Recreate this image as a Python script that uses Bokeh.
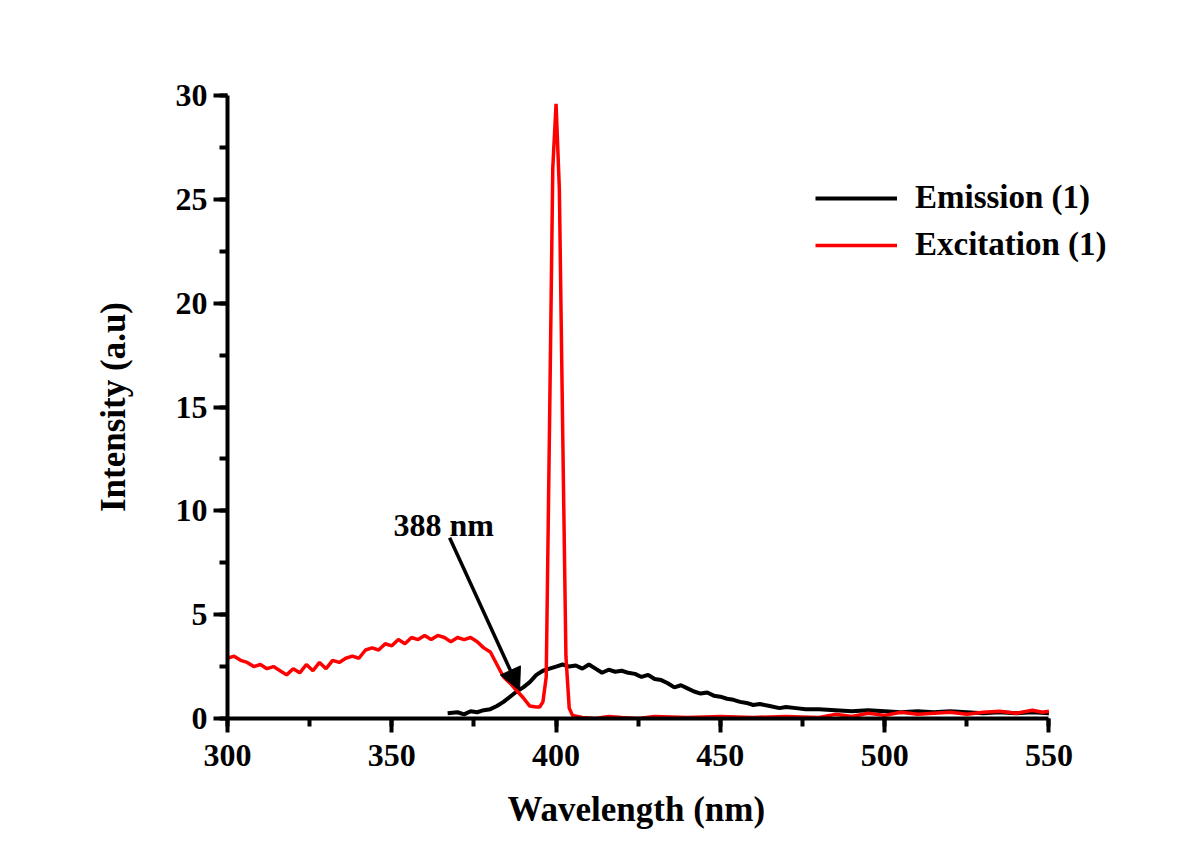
from bokeh.plotting import figure
from bokeh.models import (Range1d, Legend, LegendItem, Arrow, NormalHead, Label,
                          SingleIntervalTicker, Title)
from bokeh.embed import file_html
from bokeh.resources import INLINE

# Excitation (red)
exc_x = [300, 302, 304, 306, 308, 310, 312, 314, 316, 318, 320, 322, 324, 326, 328, 330,
         332, 334, 336, 338, 340, 342, 344, 346, 348, 350, 352, 354, 356, 358, 360, 362,
         364, 366, 368, 370, 372, 374, 376, 378, 380, 382, 384, 386, 388, 390, 392, 394,
         395, 396, 397, 398, 399, 400, 401, 402, 403, 404, 405, 408, 412, 416, 420, 425,
         430, 440, 450, 460, 470, 480, 485, 490, 495, 500, 505, 510, 515, 520, 525, 530,
         535, 540, 545, 548, 550]
exc_y = [2.9, 3.0, 2.8, 2.7, 2.5, 2.6, 2.4, 2.5, 2.3, 2.1, 2.4, 2.2, 2.6, 2.3, 2.7, 2.4,
         2.8, 2.7, 2.9, 3.0, 2.9, 3.3, 3.4, 3.3, 3.6, 3.5, 3.8, 3.6, 3.9, 3.8, 4.0, 3.8,
         4.0, 3.9, 3.7, 3.9, 3.8, 3.9, 3.7, 3.4, 3.2, 2.6, 2.0, 1.7, 1.35, 1.0, 0.6, 0.55,
         0.55, 0.8, 2.0, 14.0, 26.5, 29.6, 25.5, 14.0, 3.0, 0.5, 0.15, 0.05, 0.0, 0.1, 0.05, 0.0,
         0.1, 0.05, 0.1, 0.05, 0.1, 0.05, 0.2, 0.1, 0.25, 0.15, 0.3, 0.2, 0.25, 0.3, 0.2, 0.3,
         0.35, 0.25, 0.4, 0.3, 0.35]

# Emission (black)
emi_x = [367, 370, 372, 374, 376, 378, 380, 382, 384, 386, 388, 390, 392, 394, 396, 398,
         400, 402, 404, 406, 408, 410, 412, 414, 416, 418, 420, 422, 424, 426, 428, 430,
         432, 434, 436, 438, 440, 442, 444, 446, 448, 450, 452, 454, 456, 458, 460, 462,
         465, 468, 470, 473, 476, 480, 485, 490, 495, 500, 505, 510, 515, 520, 525, 530,
         535, 540, 545, 550]
emi_y = [0.25, 0.3, 0.2, 0.35, 0.3, 0.4, 0.45, 0.6, 0.8, 1.05, 1.3, 1.5, 1.75, 2.1, 2.3, 2.4,
         2.5, 2.6, 2.5, 2.55, 2.4, 2.6, 2.4, 2.2, 2.35, 2.25, 2.3, 2.2, 2.15, 2.0, 2.1, 1.9,
         1.85, 1.7, 1.5, 1.6, 1.45, 1.3, 1.2, 1.25, 1.1, 1.05, 0.95, 0.9, 0.8, 0.75, 0.65, 0.7,
         0.6, 0.5, 0.55, 0.5, 0.45, 0.45, 0.4, 0.35, 0.4, 0.35, 0.3, 0.35, 0.3, 0.35, 0.3, 0.25,
         0.3, 0.25, 0.3, 0.25]

legend_labels = ["Emission (1)", "Excitation (1)"]
x_label = "Wavelength (nm)"
y_label = "Intensity (a.u)"
annot_text = "388 nm"
annot_text_pos = (350.5, 9.3)
arrow_start = (367.6, 8.7)
arrow_end = (388.9, 1.35)

FONT = "Liberation Serif"

# x range extends past 550 so the legend text is not clipped; axis is bounded to 300-550
p = figure(width=1203, height=852, output_backend="svg", toolbar_location=None,
           x_range=Range1d(300, 580), y_range=Range1d(0, 30),
           min_border_left=227, min_border_right=56, min_border_top=95, min_border_bottom=134)
p.outline_line_color = None
p.xgrid.visible = False
p.ygrid.visible = False
p.background_fill_color = "white"
p.border_fill_color = "white"

r_emi = p.line(emi_x, emi_y, line_color="black", line_width=4)
r_exc = p.line(exc_x, exc_y, line_color="#ff0000", line_width=3.5)

for ax in (p.xaxis[0], p.yaxis[0]):
    ax.axis_line_width = 4
    ax.axis_line_color = "black"
    ax.major_tick_line_width = 4
    ax.minor_tick_line_width = 4
    ax.major_tick_out = 14
    ax.major_tick_in = 0
    ax.minor_tick_out = 8
    ax.minor_tick_in = 0
    ax.major_label_text_font = FONT
    ax.major_label_text_font_style = "bold"
    ax.major_label_text_font_size = "32px"
    ax.major_label_text_color = "black"
    ax.axis_label_text_font = FONT
    ax.axis_label_text_font_style = "bold"
    ax.axis_label_text_font_size = "35px"
    ax.axis_label_text_color = "black"

p.xaxis.bounds = (300, 550)
p.xaxis.ticker = SingleIntervalTicker(interval=50, num_minor_ticks=2)
p.yaxis.ticker = SingleIntervalTicker(interval=5, num_minor_ticks=2)
p.yaxis.axis_label = y_label
p.xaxis.major_label_standoff = 12
p.yaxis.major_label_standoff = 6
p.yaxis.axis_label_standoff = 40

# x-axis label as a below-title, shifted to centre it under the 300-550 axis
p.add_layout(Title(text=x_label, align="left", offset=280, standoff=38,
                   text_font=FONT, text_font_style="bold", text_font_size="35px",
                   text_color="black"), "below")

legend = Legend(items=[LegendItem(label=legend_labels[0], renderers=[r_emi]),
                       LegendItem(label=legend_labels[1], renderers=[r_exc])],
                location=(588, 455), glyph_width=82, glyph_height=30,
                label_text_font=FONT, label_text_font_style="bold",
                label_text_font_size="33px", label_text_color="black",
                label_standoff=18, spacing=10, label_height=30,
                border_line_color=None, background_fill_alpha=0, padding=0, margin=0)
p.add_layout(legend, "center")

p.add_layout(Arrow(end=NormalHead(size=22, fill_color="black", line_color="black"),
                   x_start=arrow_start[0], y_start=arrow_start[1],
                   x_end=arrow_end[0], y_end=arrow_end[1],
                   line_width=3.5, line_color="black"))
p.add_layout(Label(x=annot_text_pos[0], y=annot_text_pos[1], text=annot_text,
                   text_font=FONT, text_font_style="bold", text_font_size="32px",
                   text_baseline="middle", text_color="black"))

open("out.html", "w").write(file_html(p, INLINE))
